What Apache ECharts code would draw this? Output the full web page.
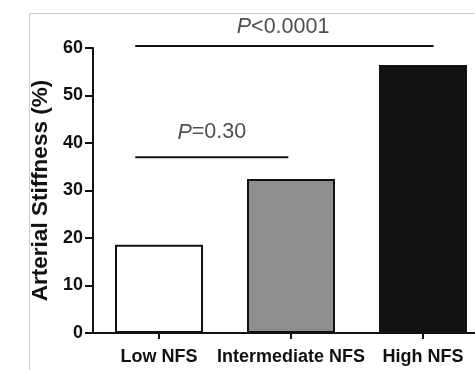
<!DOCTYPE html>
<html>
<head>
<meta charset="utf-8">
<script src="https://cdn.jsdelivr.net/npm/echarts@6/dist/echarts.min.js"></script>
<style>
  html, body { margin: 0; padding: 0; background: #fff; }
  #chart { width: 475px; height: 370px; }
</style>
</head>
<body>
<div id="chart"></div>
<script>
// categories and bar values
var categories = ['Low NFS', 'Intermediate NFS', 'High NFS'];
var stiffness = [18.6, 32.4, 56.4];
var barColors = ['#ffffff', '#8e8e8e', '#111111'];

// significance brackets: [xStart, xEnd, y] on a -0.5..2.5 scale
var bracketLow = [-0.18, 0.98, 37.0];
var bracketHigh = [-0.18, 2.08, 60.4];
// p-value labels: [x, y, italic part, rest]
var pLabels = [
  [0.40, 42.2, 'P', '=0.30'],
  [0.94, 64.4, 'P', '<0.0001']
];

var font = '"Liberation Sans", Arial, sans-serif';

var chart = echarts.init(document.getElementById('chart'), null, { renderer: 'canvas' });

function bracket(b) {
  return {
    type: 'line',
    xAxisIndex: 1,
    clip: false,
    silent: true,
    showSymbol: false,
    symbol: 'none',
    lineStyle: { color: '#111', width: 2 },
    data: [[b[0], b[2]], [b[1], b[2]]],
    z: 5
  };
}

chart.setOption({
  animation: false,
  backgroundColor: '#ffffff',
  graphic: [
    { type: 'line', shape: { x1: 29.5, y1: 13.5, x2: 475, y2: 13.5 }, style: { stroke: '#c8c8c8', lineWidth: 1 } },
    { type: 'line', shape: { x1: 29.5, y1: 13.5, x2: 29.5, y2: 370 }, style: { stroke: '#c8c8c8', lineWidth: 1 } }
  ],
  grid: { left: 93, top: 48, width: 396, height: 285, outerBoundsMode: 'none', containLabel: false },
  xAxis: [
    {
      type: 'category',
      data: categories,
      axisLine: { onZero: false, lineStyle: { color: '#111', width: 2 } },
      axisTick: { show: true, interval: 0, alignWithLabel: true, length: 6, lineStyle: { color: '#111', width: 2 } },
      axisLabel: { color: '#111', fontFamily: font, fontWeight: 'bold', fontSize: 18, margin: 15, interval: 0 }
    },
    { type: 'value', min: -0.5, max: 2.5, show: false }
  ],
  yAxis: {
    type: 'value',
    min: 0,
    max: 60,
    interval: 10,
    name: 'Arterial Stiffness (%)',
    nameLocation: 'middle',
    nameGap: 37,
    nameTextStyle: { color: '#111', fontFamily: font, fontWeight: 'bold', fontSize: 22.5 },
    axisLine: { show: true, onZero: false, lineStyle: { color: '#111', width: 2 } },
    axisTick: { show: true, length: 8, lineStyle: { color: '#111', width: 2 } },
    axisLabel: { color: '#111', fontFamily: font, fontWeight: 'bold', fontSize: 18, margin: 10 },
    splitLine: { show: false }
  },
  series: [
    {
      type: 'bar',
      barWidth: 88,
      data: stiffness.map(function (v, i) {
        return { value: v, itemStyle: { color: barColors[i] } };
      }),
      itemStyle: { borderColor: '#111', borderWidth: 2 }
    },
    bracket(bracketLow),
    bracket(bracketHigh),
    {
      type: 'scatter',
      xAxisIndex: 1,
      clip: false,
      silent: true,
      symbolSize: 0,
      data: pLabels.map(function (p) { return [p[0], p[1], p[2], p[3]]; }),
      label: {
        show: true,
        position: 'inside',
        formatter: function (d) { return '{i|' + d.value[2] + '}{n|' + d.value[3] + '}'; },
        rich: {
          i: { fontFamily: font, fontStyle: 'italic', fontSize: 21.5, color: '#222' },
          n: { fontFamily: font, fontSize: 21.5, color: '#222' }
        }
      }
    }
  ]
});
</script>
</body>
</html>
